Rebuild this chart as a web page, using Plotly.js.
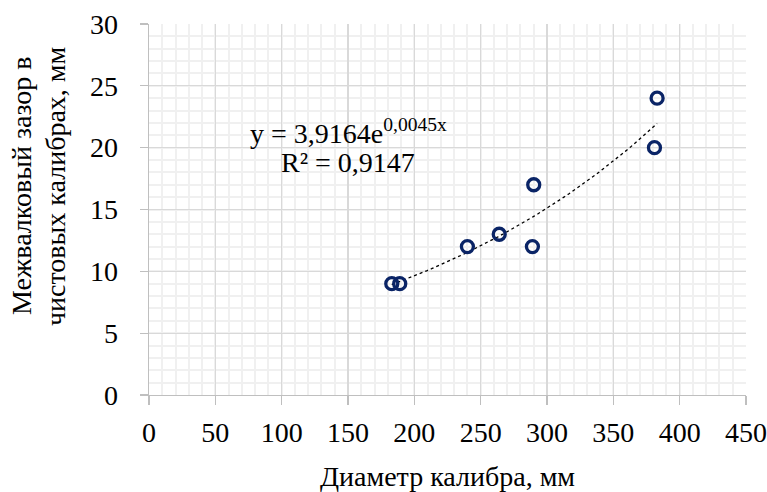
<!DOCTYPE html>
<html>
<head>
<meta charset="utf-8">
<script src="https://cdn.plot.ly/plotly-3.0.1.min.js"></script>
<style>html,body{margin:0;padding:0;background:#fff;}#chart{width:767px;height:492px;}</style>
</head>
<body>
<div id="chart"></div>
<script>
// Data
const diameter = [183, 189, 240, 264, 289, 290, 381, 383];   // Диаметр калибра, мм
const gap      = [9, 9, 12, 13, 12, 17, 20, 24];              // Межвалковый зазор, мм
// Excel exponential trendline shown on the chart: y = 3,9164 e^(0,0045x), R² = 0,9147
const trendA = 3.9164;
const trendB = 0.0045;
const trendText = ["y = 3,9164e<sup>0,0045x</sup>", "R² = 0,9147"];
const xTickVals = [0, 50, 100, 150, 200, 250, 300, 350, 400, 450];
const yTickVals = [0, 5, 10, 15, 20, 25, 30];
const xTitle = 'Диаметр калибра, мм';
const yTitleLines = ['Межвалковый зазор в', 'чистовых калибрах, мм'];

const xMin = Math.min(...diameter), xMax = Math.max(...diameter);
const trendX = [], trendY = [];
for (let i = 0; i <= 60; i++) {
  const x = xMin + (xMax - xMin) * i / 60;
  trendX.push(x);
  trendY.push(trendA * Math.exp(trendB * x));
}

const font = "Liberation Serif";
const data = [
  {x: trendX, y: trendY, mode: 'lines', type: 'scatter',
   line: {color: '#000', width: 1.3, dash: 'dot'}, hoverinfo: 'skip'},
  {x: diameter, y: gap, mode: 'markers', type: 'scatter',
   marker: {symbol: 'circle-open', size: 12, color: '#0a2466', line: {width: 3.3, color: '#0a2466'}}}
];
const layout = {
  width: 767, height: 492,
  margin: {l: 149, r: 21, t: 24, b: 97},
  showlegend: false,
  paper_bgcolor: '#fff', plot_bgcolor: '#fff',
  font: {family: font, size: 28, color: '#000'},
  xaxis: {
    range: [0, 450], tickvals: xTickVals, ticktext: xTickVals.map(String),
    showgrid: true, gridcolor: '#d9d9d9', gridwidth: 1.3,
    minor: {dtick: 10, showgrid: true, gridcolor: '#f0f0f0', gridwidth: 2, ticks: ''},
    showline: true, linecolor: '#bfbfbf', linewidth: 1.3,
    ticks: 'outside', ticklen: 9, tickcolor: '#bfbfbf', tickwidth: 1.3,
    ticklabelstandoff: 3,
    zeroline: false,
    title: {text: xTitle, font: {family: font, size: 28}, standoff: 20}
  },
  yaxis: {
    range: [0, 30], tickvals: yTickVals, ticktext: yTickVals.map(String),
    showgrid: true, gridcolor: '#d9d9d9', gridwidth: 1.3,
    minor: {dtick: 1, showgrid: true, gridcolor: '#f0f0f0', gridwidth: 2, ticks: ''},
    showline: true, linecolor: '#bfbfbf', linewidth: 1.3,
    ticks: 'outside', ticklen: 8, tickcolor: '#bfbfbf', tickwidth: 1.3,
    ticklabelstandoff: 16,
    zeroline: false
  },
  annotations: [
    {x: 150, y: 21.3, xref: 'x', yref: 'y', text: trendText[0], showarrow: false,
     font: {family: font, size: 28, color: '#000'}},
    {x: 150, y: 18.8, xref: 'x', yref: 'y', text: trendText[1], showarrow: false,
     font: {family: font, size: 28, color: '#000'}},
    {x: -0.2144, y: 0.5633, xref: 'paper', yref: 'paper', text: yTitleLines[0], showarrow: false,
     textangle: -90, xanchor: 'center', yanchor: 'middle', font: {family: font, size: 28, color: '#000'}},
    {x: -0.1574, y: 0.5633, xref: 'paper', yref: 'paper', text: yTitleLines[1], showarrow: false,
     textangle: -90, xanchor: 'center', yanchor: 'middle', font: {family: font, size: 28, color: '#000'}}
  ]
};
Plotly.newPlot('chart', data, layout, {displayModeBar: false, staticPlot: true});
</script>
</body>
</html>
